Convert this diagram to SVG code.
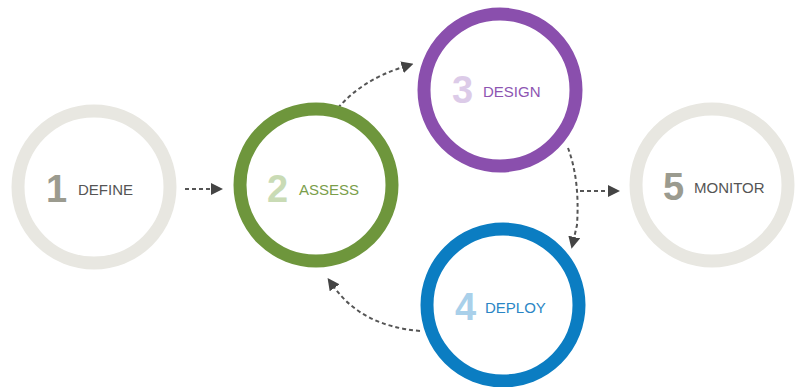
<svg xmlns="http://www.w3.org/2000/svg" width="804" height="387" viewBox="0 0 804 387">
<style>
.ring{fill:none;stroke-width:13}
.num{font-family:"Liberation Sans",Arial,sans-serif;font-weight:bold;font-size:38px}
.lbl{font-family:"Liberation Sans",Arial,sans-serif;font-size:15px}
.conn{fill:none;stroke:#555;stroke-width:2;stroke-dasharray:4 3}
</style>
<defs>
<marker id="ah" viewBox="0 0 12 12" refX="1" refY="6" markerWidth="12" markerHeight="12" markerUnits="userSpaceOnUse" orient="auto">
<path d="M0,0 L12,6 L0,12 Z" fill="#444"/>
</marker>
</defs>
<rect width="804" height="387" fill="#fff"/>
<g id="connectors">
<path class="conn" d="M185,189 L212,189" marker-end="url(#ah)"/>
<path class="conn" d="M338,108 Q362,80 403,67" marker-end="url(#ah)"/>
<path class="conn" d="M568,148 Q580,180 577,225 L574,238" marker-end="url(#ah)"/>
<path class="conn" d="M580,191 L609,191" marker-end="url(#ah)"/>
<path class="conn" d="M420,331 Q362,326 334,287" marker-end="url(#ah)"/>
</g>
<g id="node1">
<circle class="ring" cx="94" cy="187" r="76" stroke="#e8e7e1"/>
<text class="num" x="46" y="202" fill="#9b9b8f">1</text>
<text class="lbl" x="78" y="195" fill="#555">DEFINE</text>
</g>
<g id="node2">
<circle class="ring" cx="316" cy="185" r="76" stroke="#6e963c"/>
<text class="num" x="267" y="202" fill="#c9dbb5">2</text>
<text class="lbl" x="299" y="195" fill="#7a9e4a">ASSESS</text>
</g>
<g id="node3">
<circle class="ring" cx="500" cy="90" r="76" stroke="#8a4fad"/>
<text class="num" x="452" y="103" fill="#dccbe8">3</text>
<text class="lbl" x="483" y="97" fill="#8d55b2">DESIGN</text>
</g>
<g id="node4">
<circle class="ring" cx="503" cy="305" r="76" stroke="#0b7dc2"/>
<text class="num" x="455" y="320" fill="#a9d0ea">4</text>
<text class="lbl" x="485" y="313" fill="#2a86c5">DEPLOY</text>
</g>
<g id="node5">
<circle class="ring" cx="712" cy="185" r="76" stroke="#e8e7e1"/>
<text class="num" x="663" y="200" fill="#9b9b8f">5</text>
<text class="lbl" x="694" y="193" fill="#555">MONITOR</text>
</g>
</svg>
